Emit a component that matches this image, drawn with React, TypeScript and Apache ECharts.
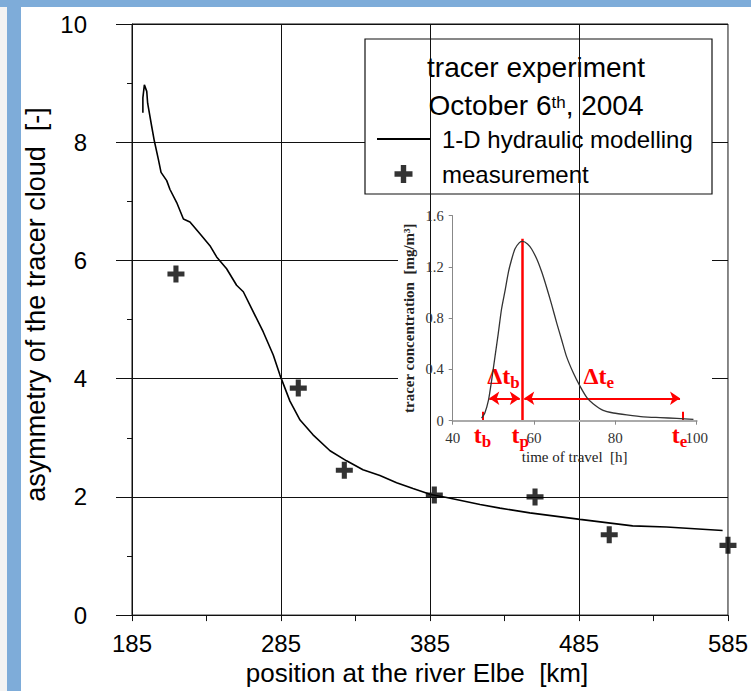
import React, { useEffect, useRef } from "react";
import * as echarts from "echarts";

// ---------- main chart data ----------
const kmModel = [192.3, 192.3, 193.3, 194.9, 195.5, 198.2, 200, 202.7, 204.5, 208.3, 210.5, 215, 219.5, 223.9, 230.6, 237.3, 241.8, 248.5, 255.2, 259.7, 266.4, 273.1, 279.8, 284.3, 291, 297.8, 306.5, 317.9, 329, 340, 351.4, 362.6, 373.6, 385.5, 396.2, 418.6, 432, 452, 485.7, 521, 543.7, 581.4];
const asymModel = [8.5, 8.75, 8.97, 8.86, 8.66, 8.27, 8.02, 7.71, 7.49, 7.35, 7.2, 6.98, 6.7, 6.65, 6.45, 6.25, 6.06, 5.86, 5.58, 5.47, 5.13, 4.79, 4.4, 4.06, 3.62, 3.3, 3.05, 2.78, 2.61, 2.46, 2.36, 2.24, 2.14, 2.04, 1.99, 1.87, 1.81, 1.73, 1.62, 1.51, 1.49, 1.43];

const kmMeas = [214.5, 296.6, 327.5, 387.9, 455.5, 505.3, 585.0];
const asymMeas = [5.77, 3.84, 2.45, 2.03, 2.0, 1.36, 1.18];

const xTickKm = [185, 235, 285, 335, 385, 435, 485, 535, 585];
const xLabelKm = [185, 285, 385, 485, 585];
const xGridKm = [285, 385, 485];

// ---------- inset data ----------
const timeH = [47.1, 47.9, 48.8, 49.6, 50.4, 51.2, 52.0, 52.9, 53.7, 54.5, 55.3, 56.4, 57.2, 58.4, 59.4, 60.7, 61.9, 63.1, 64.3, 65.6, 66.8, 68.0, 69.7, 71.3, 73.0, 74.6, 77.0, 79.5, 82.8, 86.9, 91.0, 95.1, 99.2];
const conc = [0.02, 0.06, 0.16, 0.32, 0.5, 0.68, 0.87, 1.02, 1.16, 1.26, 1.34, 1.39, 1.4, 1.38, 1.34, 1.26, 1.16, 1.04, 0.91, 0.76, 0.63, 0.5, 0.37, 0.27, 0.18, 0.13, 0.08, 0.06, 0.045, 0.03, 0.024, 0.018, 0.01];

const tB = 47.5;
const tP = 57.1;
const tE = 96.6;
const peakMark = 1.42;
const arrowLevel = 0.175;
const arrowB = [49.0, 56.5];
const arrowE = [57.6, 95.9];
const labelLevel = 0.35;

const SANS = "'Liberation Sans', Arial, sans-serif";
const SERIF = "'Liberation Serif', 'Times New Roman', serif";
const RED = "#ff0000";
const BLUE = "#7eacd9";
const PLUS = "path://M35,0H65V35H100V65H65V100H35V65H0V35H35Z";
const DASH = "path://M0,0H100V4H0Z";

const redRich = {
  d: { fontSize: 24, fontWeight: "bold", fontFamily: SERIF, color: RED },
  s: { fontSize: 17, fontWeight: "bold", fontFamily: SERIF, color: RED, padding: [14, 0, 0, 0] },
};

function buildOption() {
  return {
    animation: false,
    backgroundColor: "#ffffff",
    title: {
      text: "{a|tracer experiment}\n{a|October 6}{s|th}{a|, 2004}",
      left: 536,
      top: 48,
      padding: 0,
      textAlign: "center",
      z: 8,
      textStyle: {
        fontWeight: "normal",
        rich: {
          a: { fontSize: 28, fontFamily: SANS, color: "#000", lineHeight: 38 },
          s: { fontSize: 17, fontFamily: SANS, color: "#000", padding: [0, 0, 6, 0] },
        },
      },
    },
    legend: {
      left: 377,
      top: 127,
      padding: 0,
      orient: "vertical",
      selectedMode: false,
      itemWidth: 53,
      itemHeight: 18,
      itemGap: 11,
      z: 8,
      textStyle: { fontSize: 24, fontFamily: SANS, color: "#000", lineHeight: 24, padding: [0, 0, 0, 7] },
      data: [
        { name: "1-D hydraulic modelling", icon: DASH },
        { name: "measurement", icon: PLUS },
      ],
    },
    graphic: [
      { type: "rect", z: 100, shape: { x: 0, y: 0, width: 751, height: 7 }, style: { fill: BLUE } },
      { type: "rect", z: 100, shape: { x: 0, y: 7, width: 7, height: 684 }, style: { fill: "#f3f3f3" } },
      { type: "rect", z: 100, shape: { x: 7, y: 7, width: 14, height: 684 }, style: { fill: BLUE } },
      { type: "rect", z: 3, shape: { x: 398, y: 206, width: 314, height: 264 }, style: { fill: "#fff" } },
      { type: "rect", z: 3, shape: { x: 365, y: 39, width: 347, height: 155 }, style: { fill: "#fff", stroke: "#111", lineWidth: 1.2 } },
    ],
    grid: [
      { left: 132, right: 23, top: 24, bottom: 73, show: true, borderColor: "#111", borderWidth: 1, backgroundColor: "transparent" },
      { left: 452.7, right: 54.3, top: 215.7, bottom: 270.3 },
    ],
    xAxis: [
      {
        gridIndex: 0,
        type: "value",
        min: 185,
        max: 585,
        name: "position at the river Elbe  [km]",
        nameLocation: "middle",
        nameGap: 44,
        nameTextStyle: { fontSize: 26, fontFamily: SANS, color: "#000", padding: [0, 26, 0, 0] },
        axisLine: { lineStyle: { color: "#111", width: 1 } },
        axisTick: { customValues: xTickKm, length: 6, lineStyle: { color: "#111" } },
        axisLabel: { customValues: xLabelKm, fontSize: 24, fontFamily: SANS, color: "#000", margin: 16 },
        splitLine: { show: false },
      },
      {
        gridIndex: 1,
        type: "value",
        min: 40,
        max: 100,
        interval: 20,
        z: 5,
        name: "time of travel  [h]",
        nameLocation: "middle",
        nameGap: 29,
        nameTextStyle: { fontSize: 15, fontFamily: SERIF, color: "#222" },
        axisLine: { lineStyle: { color: "#aaa", width: 2 } },
        axisTick: { length: 4, lineStyle: { color: "#888" } },
        axisLabel: { fontSize: 15, fontFamily: SERIF, color: "#333", margin: 10 },
        splitLine: { show: false },
      },
    ],
    yAxis: [
      {
        gridIndex: 0,
        type: "value",
        min: 0,
        max: 10,
        interval: 2,
        name: "asymmetry of the tracer cloud  [-]",
        nameLocation: "middle",
        nameGap: 80,
        nameTextStyle: { fontSize: 27, fontFamily: SANS, color: "#000", padding: [0, 0, 0, 30] },
        axisLine: { show: true, lineStyle: { color: "#111", width: 1 } },
        axisTick: { length: 16, lineStyle: { color: "#111" } },
        minorTick: { show: true, splitNumber: 2, length: 5, lineStyle: { color: "#111" } },
        axisLabel: { fontSize: 24, fontFamily: SANS, color: "#000", margin: 45 },
        splitLine: { show: true, lineStyle: { color: "#111", width: 1 } },
      },
      {
        gridIndex: 1,
        type: "value",
        min: 0,
        max: 1.6,
        interval: 0.4,
        z: 5,
        name: "tracer concentration  [mg/m³]",
        nameLocation: "middle",
        nameGap: 36,
        nameTextStyle: { fontSize: 15, fontWeight: "bold", fontFamily: SERIF, color: "#222" },
        axisLine: { show: true, lineStyle: { color: "#888", width: 1 } },
        axisTick: { length: 4, lineStyle: { color: "#888" } },
        axisLabel: { fontSize: 14.5, fontFamily: SERIF, color: "#333", margin: 9 },
        splitLine: { show: false },
      },
    ],
    series: [
      {
        name: "1-D hydraulic modelling",
        type: "line",
        xAxisIndex: 0,
        yAxisIndex: 0,
        symbol: "none",
        showSymbol: false,
        z: 2,
        lineStyle: { color: "#000", width: 1.6 },
        itemStyle: { color: "#000" },
        data: kmModel.map((k, i) => [k, asymModel[i]]),
        markLine: {
          silent: true,
          symbol: ["none", "none"],
          label: { show: false },
          lineStyle: { color: "#111", width: 1, type: "solid" },
          data: xGridKm.map((v) => ({ xAxis: v })),
        },
      },
      {
        name: "measurement",
        type: "scatter",
        xAxisIndex: 0,
        yAxisIndex: 0,
        symbol: PLUS,
        symbolSize: 17,
        clip: false,
        z: 2,
        itemStyle: { color: "#000" },
        data: kmMeas.map((k, i) => [k, asymMeas[i]]),
      },
      {
        name: "tracer concentration",
        type: "line",
        xAxisIndex: 1,
        yAxisIndex: 1,
        symbol: "none",
        showSymbol: false,
        smooth: 0.2,
        z: 6,
        lineStyle: { color: "#333", width: 1.3 },
        data: timeH.map((t, i) => [t, conc[i]]),
        markLine: {
          silent: true,
          symbol: ["none", "none"],
          symbolSize: 10,
          label: { show: false },
          lineStyle: { color: RED, width: 2, type: "solid" },
          data: [
            [{ coord: [tP, 0], lineStyle: { color: RED, width: 2.5, type: "solid" } }, { coord: [tP, peakMark] }],
            [{ coord: [tB, 0] }, { coord: [tB, 0.07] }],
            [{ coord: [tE, 0] }, { coord: [tE, 0.07] }],
            [{ coord: [arrowB[0], arrowLevel], symbol: "arrow" }, { coord: [arrowB[1], arrowLevel], symbol: "arrow" }],
            [{ coord: [arrowE[0], arrowLevel], symbol: "arrow" }, { coord: [arrowE[1], arrowLevel], symbol: "arrow" }],
          ],
        },
        markPoint: {
          silent: true,
          symbol: "circle",
          symbolSize: 1,
          itemStyle: { color: "rgba(0,0,0,0)" },
          label: { show: true, position: "inside", rich: redRich },
          data: [
            { coord: [52.5, labelLevel], label: { formatter: "{d|Δt}{s|b}" } },
            { coord: [75.9, labelLevel], label: { formatter: "{d|Δt}{s|e}" } },
            { coord: [47.3, 0], label: { formatter: "{d|t}{s|b}", offset: [0, 14] } },
            { coord: [56.6, 0], label: { formatter: "{d|t}{s|p}", offset: [0, 14] } },
            { coord: [95.8, 0], label: { formatter: "{d|t}{s|e}", offset: [0, 14] } },
          ],
        },
      },
    ],
  };
}

export default function App() {
  const ref = useRef<HTMLDivElement>(null);
  useEffect(() => {
    if (!ref.current) return;
    const chart = echarts.init(ref.current, null, { renderer: "svg" });
    chart.setOption(buildOption() as any);
    return () => chart.dispose();
  }, []);
  return (
    <div
      ref={ref}
      style={{ position: "absolute", left: 0, top: 0, width: 751, height: 691, background: "#fff" }}
    />
  );
}
